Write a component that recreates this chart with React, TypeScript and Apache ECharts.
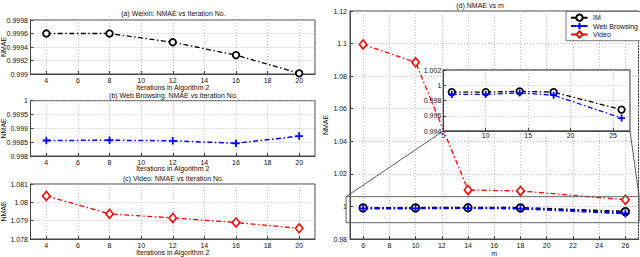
import React, { useEffect, useRef } from 'react';
import * as echarts from 'echarts';

// ---- data ----
const iterations = [4, 8, 12, 16, 20];
const weixinNmae = [0.9996, 0.9996, 0.99947, 0.99928, 0.99901];
const webIterNmae = [0.99856, 0.99857, 0.99855, 0.99846, 0.99872];
const videoIterNmae = [1.08035, 1.07937, 1.07915, 1.0789, 1.07858];

const mValues = [6, 10, 14, 18, 26];
const imNmae = [0.9991, 0.9991, 0.9992, 0.9991, 0.9968];
const webNmae = [0.9988, 0.9988, 0.999, 0.9987, 0.9957];
const videoNmae = [1.0995, 1.0885, 1.0101, 1.0095, 1.0041];

const seriesNames = ['IM', 'Web Browsing', 'Video'];
const panelTitles = [
  '(a) Weixin: NMAE vs Iteration No.',
  '(b) Web Browsing: NMAE vs Iteration No.',
  '(c) Video: NMAE vs Iteration No.',
  '(d) NMAE vs m',
];
const iterAxisName = 'Iterations in Algorithm 2';
const mAxisName = 'm';
const yAxisName = 'NMAE';

// zoomed region shown in inset (data coords of the main panel)
const zoomBoxX = [4.7, 27.05];
const zoomBoxY = [0.99, 1.006];

// ---- styles ----
const FONT = '"Liberation Sans", Arial, Helvetica, sans-serif';
const TEXT = '#111';
const AXIS = '#444';
const GRIDC = '#bdbdbd';
const DASHDOT = [5, 2.5, 1.5, 2.5];
const PLUS = 'path://M0,5L10,5M5,0L5,10';

const pairs = (xs: number[], ys: number[]) => xs.map((x, i) => [x, ys[i]]);

function xAxisCfg(gridIndex: number, o: any) {
  return {
    type: 'value',
    gridIndex,
    min: o.min,
    max: o.max,
    interval: o.interval,
    splitNumber: o.splitNumber,
    z: o.z ?? 0,
    name: o.name,
    nameLocation: 'middle',
    nameGap: o.nameGap ?? 9.5,
    nameMoveOverlap: false,
    nameTextStyle: { fontSize: 7, color: TEXT, fontFamily: FONT, lineHeight: o.nameLineHeight },
    axisLine: { show: true, onZero: false, lineStyle: { color: AXIS, width: 1 } },
    axisTick: { show: true, inside: true, length: 3, lineStyle: { color: AXIS } },
    axisLabel: {
      fontSize: 7,
      color: TEXT,
      fontFamily: FONT,
      margin: o.labelMargin ?? 3,
      showMinLabel: o.showMin ?? false,
      showMaxLabel: false,
    },
    splitLine: { show: true, lineStyle: { type: [1, 2], color: GRIDC, width: 1 } },
  };
}

function yAxisCfg(gridIndex: number, o: any) {
  return {
    type: 'value',
    gridIndex,
    min: o.min,
    max: o.max,
    interval: o.interval,
    z: o.z ?? 0,
    name: o.name,
    nameLocation: 'middle',
    nameGap: o.nameGap ?? 23,
    nameMoveOverlap: false,
    nameTextStyle: { fontSize: 7, color: TEXT, fontFamily: FONT },
    axisLine: { show: true, onZero: false, lineStyle: { color: AXIS, width: 1 } },
    axisTick: { show: true, inside: true, length: 3, lineStyle: { color: AXIS } },
    axisLabel: { fontSize: 7, color: TEXT, fontFamily: FONT, margin: o.labelMargin ?? 2.5 },
    splitLine: { show: true, lineStyle: { type: [1, 2], color: GRIDC, width: 1 } },
  };
}

const gridBase = { show: true, borderColor: AXIS, borderWidth: 1, containLabel: false, outerBoundsMode: 'none' };

function circleSeries(x: number, y: number, data: number[][], size: number, lw: number, z = 2) {
  return {
    type: 'line', name: seriesNames[0], xAxisIndex: x, yAxisIndex: y, data, z,
    symbol: 'circle', symbolSize: size, showAllSymbol: true,
    itemStyle: { color: '#fff', borderColor: '#000', borderWidth: 1.8 },
    lineStyle: { color: '#000', width: lw, type: DASHDOT },
  };
}
function plusSeries(x: number, y: number, data: number[][], size: number, lw: number, z = 2) {
  return {
    type: 'line', name: seriesNames[1], xAxisIndex: x, yAxisIndex: y, data, z,
    symbol: PLUS, symbolSize: size, showAllSymbol: true,
    itemStyle: { color: '#0000ff', borderColor: '#0000ff', borderWidth: 1.8 },
    lineStyle: { color: '#0000ff', width: lw, type: DASHDOT },
  };
}
function diamondSeries(x: number, y: number, data: number[][], size: any, lw: number, z = 2) {
  return {
    type: 'line', name: seriesNames[2], xAxisIndex: x, yAxisIndex: y, data, z,
    symbol: 'diamond', symbolSize: size, showAllSymbol: true,
    itemStyle: { color: '#fff', borderColor: '#ff0000', borderWidth: 1.6 },
    lineStyle: { color: '#ff0000', width: lw, type: DASHDOT },
  };
}

const titleText = (text: string, x: number, y: number) => ({
  type: 'text', x, y, z: 10,
  style: { text, fontSize: 7, fontFamily: FONT, fill: TEXT, align: 'center', verticalAlign: 'middle' },
});

export default function App() {
  const ref = useRef<HTMLDivElement>(null);
  useEffect(() => {
    document.body.style.margin = '0';
    const chart = echarts.init(ref.current!, null, { renderer: 'svg' });
    const option: any = {
      animation: false,
      backgroundColor: '#fff',
      textStyle: { fontFamily: FONT },
      grid: [
        { ...gridBase, left: 30.5, top: 20, width: 284.5, height: 54 },
        { ...gridBase, left: 30.5, top: 100.7, width: 284.5, height: 55.3 },
        { ...gridBase, left: 30.5, top: 184, width: 284.5, height: 55 },
        { ...gridBase, left: 350, top: 11, width: 288.5, height: 228 },
        { ...gridBase, left: 443.3, top: 70, width: 186.7, height: 61, backgroundColor: '#fff', borderColor: '#555', borderWidth: 1.3, z: 5 },
      ],
      xAxis: [
        xAxisCfg(0, { min: 3, max: 21, splitNumber: 9, name: iterAxisName, nameGap: 9.5 }),
        xAxisCfg(1, { min: 3, max: 21, splitNumber: 9, name: iterAxisName, nameGap: 8.5, labelMargin: 2.5 }),
        xAxisCfg(2, { min: 3, max: 21, splitNumber: 9, name: iterAxisName, nameGap: 9.5 }),
        xAxisCfg(3, { min: 5, max: 27, splitNumber: 11, name: mAxisName, nameGap: 10.5, labelMargin: 3, nameLineHeight: 7 }),
        xAxisCfg(4, { min: 5, max: 27, interval: 5, labelMargin: 1, showMin: true, z: 6 }),
      ],
      yAxis: [
        yAxisCfg(0, { min: 0.999, max: 0.9998, interval: 0.0002, name: yAxisName, nameGap: 24 }),
        yAxisCfg(1, { min: 0.998, max: 1, interval: 0.0005, name: yAxisName, nameGap: 24 }),
        yAxisCfg(2, { min: 1.078, max: 1.081, interval: 0.001, name: yAxisName, nameGap: 24 }),
        yAxisCfg(3, { min: 0.98, max: 1.12, interval: 0.02, name: yAxisName, nameGap: 21.5, labelMargin: 3 }),
        yAxisCfg(4, { min: 0.994, max: 1.002, interval: 0.002, labelMargin: 2, z: 6 }),
      ],
      legend: {
        data: seriesNames,
        orient: 'vertical',
        left: 566,
        top: 11.5,
        padding: [2, 4, 2, 4],
        itemGap: 0,
        itemWidth: 17,
        itemHeight: 8,
        backgroundColor: '#fff',
        borderColor: '#777',
        borderWidth: 1,
        borderRadius: 0,
        textStyle: { fontSize: 7, color: TEXT, fontFamily: FONT, lineHeight: 8 },
        z: 8,
      },
      series: [
        circleSeries(0, 0, pairs(iterations, weixinNmae), 6.5, 1.3),
        plusSeries(1, 1, pairs(iterations, webIterNmae), 7.5, 1.5),
        diamondSeries(2, 2, pairs(iterations, videoIterNmae), [7.5, 9], 1.3),
        circleSeries(3, 3, pairs(mValues, imNmae), 7.5, 2),
        plusSeries(3, 3, pairs(mValues, webNmae), 8, 2),
        diamondSeries(3, 3, pairs(mValues, videoNmae), [7.5, 9], 1.3),
        circleSeries(4, 4, pairs(mValues, imNmae), 6.5, 1.3, 7),
        plusSeries(4, 4, pairs(mValues, webNmae), 7, 1.3, 7),
      ],
    };
    chart.setOption(option);

    const p = (g: number, v: number[]) => chart.convertToPixel({ gridIndex: g } as any, v) as number[];
    const tl = p(3, [zoomBoxX[0], zoomBoxY[1]]);
    const br = p(3, [zoomBoxX[1], zoomBoxY[0]]);
    const insetBL = p(4, [5, 0.994]);
    const insetBR = p(4, [27, 0.994]);

    chart.setOption({
      graphic: [
        titleText(panelTitles[0], 173.4, 13.3),
        titleText(panelTitles[1], 173.4, 95),
        titleText(panelTitles[2], 173.4, 178),
        titleText(panelTitles[3], 480, 5),
        {
          type: 'rect', z: 3,
          shape: { x: tl[0], y: tl[1], width: br[0] - tl[0], height: br[1] - tl[1] },
          style: { fill: 'none', stroke: '#666', lineWidth: 1 },
        },
        {
          type: 'line', z: 3,
          shape: { x1: tl[0], y1: tl[1], x2: insetBL[0], y2: insetBL[1] },
          style: { stroke: '#333', lineWidth: 0.8 },
        },
        {
          type: 'line', z: 3,
          shape: { x1: br[0], y1: tl[1], x2: insetBR[0], y2: insetBR[1] },
          style: { stroke: '#333', lineWidth: 0.8 },
        },
      ],
    });

    return () => chart.dispose();
  }, []);
  return <div ref={ref} style={{ width: 640, height: 257 }} />;
}
